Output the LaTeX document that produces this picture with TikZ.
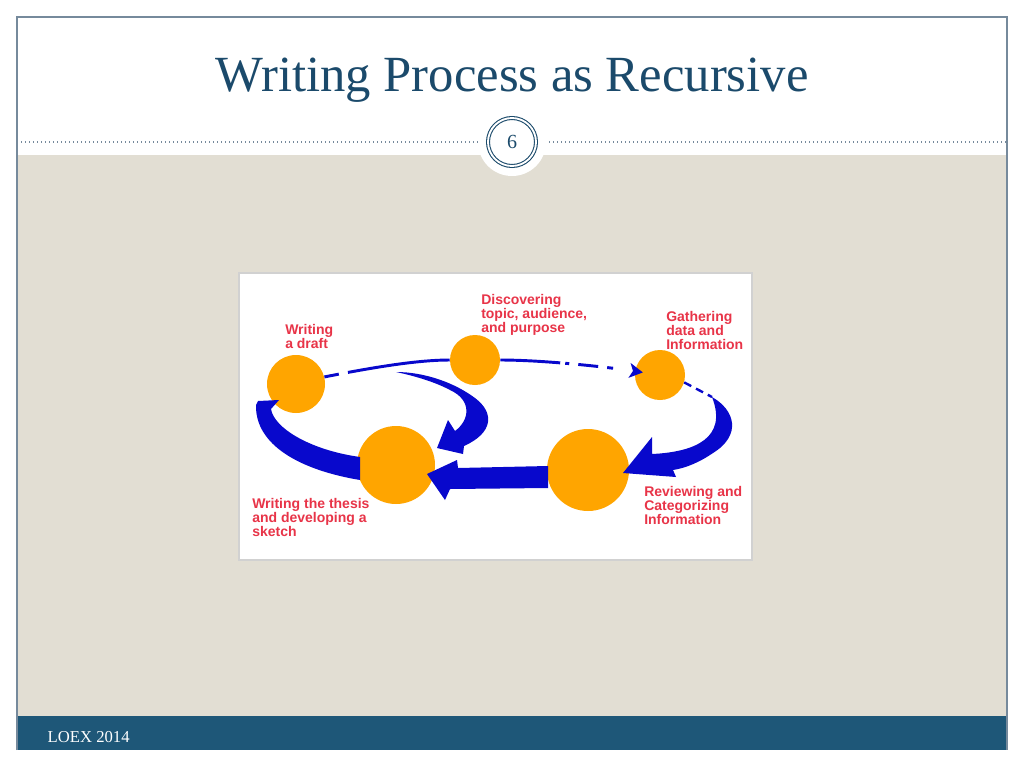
\documentclass[tikz,border=0pt]{standalone}
\usepackage{fontspec}
\setmainfont{Liberation Serif}
\newfontfamily\labelfont{Liberation Sans}
\usetikzlibrary{positioning,calc,arrows.meta}

\definecolor{slideblue}{RGB}{27,74,107}
\definecolor{footblue}{RGB}{30,87,120}
\definecolor{framegray}{RGB}{118,138,156}
\definecolor{paper}{RGB}{226,222,211}
\definecolor{stageorange}{RGB}{255,165,0}
\definecolor{flowblue}{RGB}{8,8,204}
\definecolor{stagered}{RGB}{232,52,72}

\begin{document}
\begin{tikzpicture}[x=0.75pt, y=-0.75pt,
  stage/.style={circle, fill=stageorange, inner sep=0pt},
  lbl/.style={anchor=north west, inner sep=0pt, align=left, text=stagered,
    font=\labelfont\bfseries\fontsize{10.5}{10.7}\selectfont},
  flow/.style={fill=flowblue},
  thinflow/.style={draw=flowblue, line width=2.2pt}]

% Slide
\useasboundingbox (0,0) rectangle (1024,768);
\fill[white] (0,0) rectangle (1024,768);
\fill[paper] (17,155) rectangle (1007,716);
\fill[footblue] (17,716) rectangle (1007,750);
\draw[framegray, line width=0.8pt] (17,750) -- (17,17) -- (1007,17) -- (1007,750);
\draw[framegray, dotted, line width=1pt] (17,142) -- (1007,142);

\node[circle, fill=white, minimum size=51pt, inner sep=0pt] (halo) at (512,142) {};
\node[circle, draw=slideblue, double=white, double distance=1.4pt, line width=0.8pt,
  minimum size=36pt, inner sep=0pt, text=slideblue, font=\fontsize{15}{15}\selectfont] (badge) at (halo) {6};

\node[text=slideblue, font=\fontsize{38}{40}\selectfont] (title) at (512,80) {Writing Process as Recursive};
\node[anchor=west, text=white, font=\fontsize{12.5}{13}\selectfont] (footer) at (43,737) {LOEX 2014};

% Picture
\draw[fill=white, draw=black!18, line width=1pt] (239,273) rectangle (752,560);

% Stages
\node[stage, minimum size=43.5pt] (draft) at (296,384) {};
\node[stage, minimum size=37.5pt] (disc) at (475,360) {};
\node[stage, minimum size=37.5pt] (gath) at (660,375) {};
\node[stage, minimum size=58.5pt] (thesis) at (396,465) {};
\node[stage, minimum size=61.5pt] (rev) at (588,470) {};

% Labels
\node[lbl] (draftlbl) at (285,324) {Writing\\a draft};
\node[lbl] (disclbl) at (481,294) {Discovering\\topic, audience,\\and purpose};
\node[lbl] (gathlbl) at (666,311) {Gathering\\data and\\Information};
\node[lbl] (thesislbl) at (252,498) {Writing the thesis\\and developing a\\sketch};
\node[lbl] (revlbl) at (644,486) {Reviewing and\\Categorizing\\Information};

% Thin connectors
\draw[thinflow, dash pattern=on 11pt off 7pt on 200pt]
  (draft.14) .. controls (380,366) and (420,360) .. (disc.west);
\draw[thinflow, dash pattern=on 45pt off 3.8pt on 3pt off 6.8pt on 15pt off 6.8pt on 4.5pt off 30pt,
  -{Stealth[length=10pt, width=11pt, inset=2.5pt]}, shorten >=13pt]
  (disc.east) .. controls (540,360) and (600,366) .. (gath.center);

\coordinate (revtail) at (712,397);
\coordinate (looptail) at (396,372);
\draw[thinflow, line width=1.8pt, dash pattern=on 6pt off 4pt] (gath.-17) -- (revtail);

% Thick arrows
\fill[flow] (looptail) .. controls (425,372) and (455,383) .. (475,398)
  .. controls (495,413) and (493,433) .. (464,446) -- (463,454) -- (437,448)
  -- (448,420) -- (455,431) .. controls (470,420) and (472,400) .. (450,390)
  .. controls (435,382) and (415,376) .. cycle;
\fill[flow] (revtail) .. controls (735,410) and (742,435) .. (713,453)
  .. controls (700,462) and (686,468) .. (673,470) -- (676,477) -- (623,473)
  -- (652,437) -- (652,454) .. controls (695,452) and (728,438) .. cycle;
\fill[flow] (548,466) -- (458,468) -- (457,460) -- (427,474) -- (445,500)
  -- (450,489) -- (548,488) -- cycle;
\fill[flow] (360,480) .. controls (300,470) and (255,445) .. (256,405)
  -- (258,401) -- (279,400) -- (271,409)
  .. controls (274,428) and (310,450) .. (360,457) -- cycle;

\end{tikzpicture}
\end{document}
